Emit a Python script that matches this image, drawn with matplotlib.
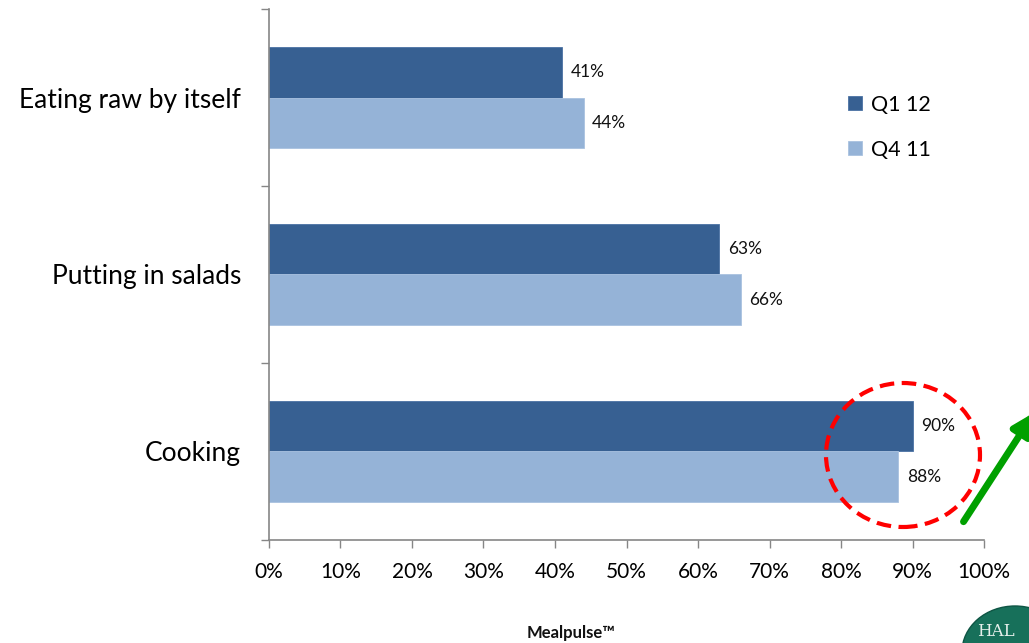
import numpy as np
import matplotlib.pyplot as plt
from matplotlib.patches import Ellipse, FancyArrowPatch

# Usage categories (bottom to top) and share of respondents per quarter
categories = ['Cooking', 'Putting in salads', 'Eating raw by itself']
q1_12 = [90, 63, 41]
q4_11 = [88, 66, 44]
series_names = ['Q1 12', 'Q4 11']
x_ticks = list(range(0, 101, 10))

dark_blue = '#376092'
light_blue = '#95b3d7'
axis_grey = '#868686'

plt.rcParams['font.family'] = ['Lato', 'DejaVu Sans']

fig = plt.figure(figsize=(10.29, 6.43), dpi=100)
ax = fig.add_axes([0.2614, 0.1602, 0.6949, 0.8258])

pos = np.arange(len(categories))
h = 0.285
bars_q1 = ax.barh(pos + h / 2, q1_12, height=h, color=dark_blue,
                  edgecolor='#4a72a3', linewidth=0.6, label=series_names[0])
bars_q4 = ax.barh(pos - h / 2, q4_11, height=h, color=light_blue,
                  edgecolor='#a9c2e0', linewidth=0.6, label=series_names[1])

for bars, vals in [(bars_q1, q1_12), (bars_q4, q4_11)]:
    for b, v in zip(bars, vals):
        ax.text(v + 1.2, b.get_y() + b.get_height() / 2, f'{v}%',
                va='center', ha='left', fontsize=12.5, color='#111111')

ax.set_xlim(0, 100)
ax.set_ylim(-0.5, 2.5)
ax.set_xticks(x_ticks)
ax.set_xticklabels([f'{t}%' for t in x_ticks], fontsize=15)
ax.set_yticks(pos)
ax.set_yticklabels(categories, fontsize=19)
ax.set_yticks(np.arange(-0.5, len(categories), 1.0), minor=True)
ax.tick_params(axis='y', which='major', length=0, pad=20)
ax.tick_params(axis='y', which='minor', length=6, width=1, color=axis_grey,
               direction='out')
ax.tick_params(axis='x', length=6, width=1, color=axis_grey, pad=10)

for side in ['top', 'right']:
    ax.spines[side].set_visible(False)
for side in ['left', 'bottom']:
    ax.spines[side].set_color(axis_grey)
    ax.spines[side].set_linewidth(1.2)

leg = ax.legend(handles=[bars_q1, bars_q4], loc='upper left',
                bbox_to_anchor=(0.782, 0.875), frameon=False, fontsize=15.5,
                handlelength=0.65, handleheight=0.65, handletextpad=0.45,
                labelspacing=1.15)

# Highlight around the cooking figures
fig.add_artist(Ellipse((903 / 1029, 1 - 455 / 643), 154 / 1029, 144 / 643,
                       transform=fig.transFigure, fill=False,
                       edgecolor='#ff0000', linewidth=3, linestyle=(0, (3.5, 1.8))))

# Upward trend arrow
fig.add_artist(FancyArrowPatch((962 / 1029, 1 - 524 / 643), (1036 / 1029, 1 - 410 / 643),
                               transform=fig.transFigure, arrowstyle='-|>',
                               mutation_scale=32, color='#00a000', linewidth=5))

# Corner logo
fig.add_artist(Ellipse((1015 / 1029, 1 - 652 / 643), 106 / 1029, 92 / 643,
                       transform=fig.transFigure, facecolor='#17705a',
                       edgecolor='#0e5544', linewidth=1))
fig.text(977 / 1029, 1 - 631 / 643, 'HAL', color='#e8f0ec', fontsize=12,
         family='DejaVu Serif', ha='left', va='center')

fig.text(571 / 1029, 1 - 633 / 643, 'Mealpulse™', ha='center', va='center',
         fontsize=12, fontweight='bold', color='#111111')

fig.savefig('out.png', dpi=100)
